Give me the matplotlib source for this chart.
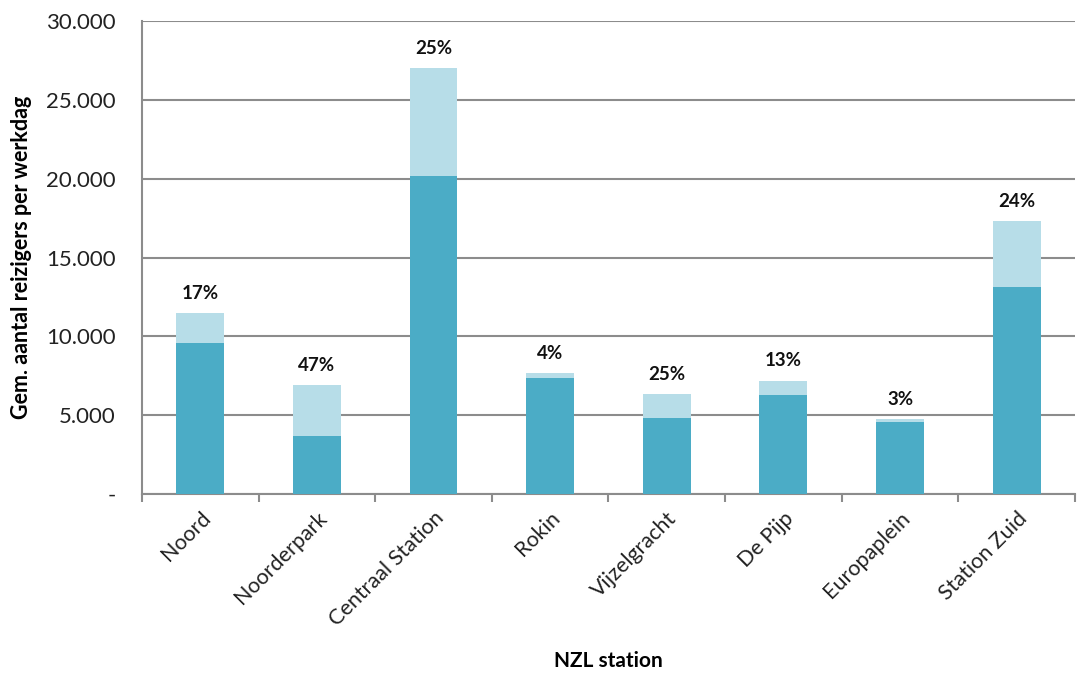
import matplotlib.pyplot as plt
import matplotlib.ticker as mticker

stations = ['Noord', 'Noorderpark', 'Centraal Station', 'Rokin', 'Vijzelgracht',
            'De Pijp', 'Europaplein', 'Station Zuid']
base = [9600, 3680, 20150, 7380, 4820, 6300, 4580, 13150]
extra = [1900, 3230, 6850, 290, 1530, 900, 200, 4150]
pct_labels = ['17%', '47%', '25%', '4%', '25%', '13%', '3%', '24%']

plt.rcParams['font.family'] = ['Lato', 'DejaVu Sans']

fig = plt.figure(figsize=(10.86, 6.75), dpi=100)
ax = fig.add_axes([0.1308, 0.2681, 0.859, 0.7008])

x = list(range(len(stations)))
ax.bar(x, base, width=0.41, color='#4BACC6', zorder=3)
totals = [b + e for b, e in zip(base, extra)]
ax.bar(x, extra, bottom=base, width=0.41, color='#B7DDE8', zorder=3)

for xi, t, lab in zip(x, totals, pct_labels):
    ax.annotate(lab, xy=(xi, t), xytext=(0, 8), textcoords='offset points',
                ha='center', va='bottom', fontsize=13.5, fontweight='bold', color='#111111')

ax.set_xlim(-0.5, len(stations) - 0.5)
ax.set_ylim(0, 30000)
ax.set_yticks(range(0, 30001, 5000))
ax.yaxis.set_major_formatter(mticker.FuncFormatter(
    lambda v, p: '-' if v == 0 else f'{int(v):,}'.replace(',', '.')))
ax.grid(axis='y', color='#8c8c8c', linewidth=1.5, zorder=0)
ax.tick_params(axis='y', length=0, labelsize=16, pad=19, colors='#222222')

ax.set_xticks([i - 0.5 for i in range(len(stations) + 1)], minor=False)
ax.set_xticklabels([])
ax.set_xticks(x, minor=True)
ax.set_xticklabels(stations, minor=True, rotation=45, ha='right', rotation_mode='anchor',
                   fontsize=15.5, color='#222222')
ax.tick_params(axis='x', which='major', length=6, width=1.5, color='#8c8c8c', direction='out')
ax.tick_params(axis='x', which='minor', length=0, pad=10)

for s in ['top', 'right']:
    ax.spines[s].set_visible(False)
for s in ['left', 'bottom']:
    ax.spines[s].set_color('#8c8c8c')
    ax.spines[s].set_linewidth(1.5)

ax.set_ylabel('Gem. aantal reizigers per werkdag', fontsize=15.5, fontweight='bold', labelpad=10)
ax.set_xlabel('NZL station', fontsize=15, fontweight='bold', labelpad=15)

fig.savefig('out.png', dpi=100)
